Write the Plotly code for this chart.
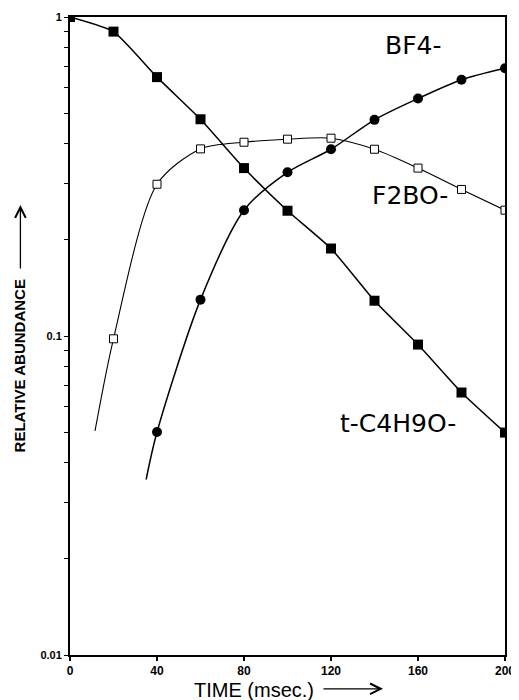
import math
import plotly.graph_objects as go

# ---- data ----
time = [0, 20, 40, 60, 80, 100, 120, 140, 160, 180, 200]
tc4h9o = [1.0, 0.90, 0.648, 0.478, 0.336, 0.247, 0.188, 0.129, 0.094, 0.0665, 0.0498]

time_bf4 = [40, 60, 80, 100, 120, 140, 160, 180, 200]
bf4 = [0.050, 0.130, 0.248, 0.326, 0.385, 0.476, 0.555, 0.636, 0.691]
bf4_fit_start = (35, 0.0355)

time_f2bo = [20, 40, 60, 80, 100, 120, 140, 160, 180, 200]
f2bo = [0.098, 0.299, 0.386, 0.405, 0.414, 0.417, 0.385, 0.336, 0.288, 0.248]
f2bo_fit_start = (11.5, 0.0504)

x_ticks = [0, 40, 80, 120, 160, 200]
y_major = [0.01, 0.1, 1]
y_major_labels = ["0.01", "0.1", "1"]

series_labels = {"bf4": "BF4-", "f2bo": "F2BO-", "tc4h9o": "t-C4H9O-"}
# label anchor positions in data units
label_pos = {"bf4": (157.7, 0.813), "f2bo": (156.3, 0.275), "tc4h9o": (150.6, 0.0532)}

fig = go.Figure()

# fitted curves
fig.add_trace(go.Scatter(
    x=[f2bo_fit_start[0]] + time_f2bo, y=[f2bo_fit_start[1]] + f2bo,
    mode="lines", line=dict(color="black", width=1.1, shape="spline", smoothing=0.8),
    hoverinfo="skip", showlegend=False))
fig.add_trace(go.Scatter(
    x=[bf4_fit_start[0]] + time_bf4, y=[bf4_fit_start[1]] + bf4,
    mode="lines", line=dict(color="black", width=1.5, shape="spline", smoothing=0.8),
    hoverinfo="skip", showlegend=False))
fig.add_trace(go.Scatter(
    x=time, y=tc4h9o,
    mode="lines", line=dict(color="black", width=1.5, shape="spline", smoothing=0.5),
    hoverinfo="skip", showlegend=False))

# markers
fig.add_trace(go.Scatter(
    x=time_f2bo, y=f2bo, mode="markers", name=series_labels["f2bo"],
    marker=dict(symbol="square", size=8, color="white", line=dict(color="black", width=1)),
    showlegend=False))
fig.add_trace(go.Scatter(
    x=time_bf4, y=bf4, mode="markers", name=series_labels["bf4"],
    marker=dict(symbol="circle", size=10, color="black", line=dict(width=0)),
    showlegend=False))
fig.add_trace(go.Scatter(
    x=time, y=tc4h9o, mode="markers", name=series_labels["tc4h9o"],
    marker=dict(symbol="square", size=10, color="black", line=dict(width=0)),
    showlegend=False))

# y ticks: decades labelled, minor 2..9 unlabelled
y_tickvals, y_ticktext = [], []
for dec, lab in zip(y_major, y_major_labels):
    y_tickvals.append(dec)
    y_ticktext.append(lab)
    if dec < 1:
        for m in range(2, 10):
            y_tickvals.append(dec * m)
            y_ticktext.append("")

label_font = dict(family="DejaVu Sans", size=25, color="black")

# annotations on a log axis take log10 of the value
annotations = [
    dict(x=label_pos[k][0], y=math.log10(label_pos[k][1]), xref="x", yref="y",
         text=series_labels[k], showarrow=False, font=label_font)
    for k in ("bf4", "f2bo", "tc4h9o")
]
annotations += [
    # x axis title and its arrow
    dict(x=0.424, y=-0.055, xref="paper", yref="paper", xanchor="center", yanchor="middle",
         text="TIME (msec.)", showarrow=False,
         font=dict(family="Liberation Sans", size=20, color="black")),
    dict(x=0.7195, y=-0.053, xref="paper", yref="paper", text="",
         showarrow=True, ax=-61, ay=0, arrowhead=5, arrowsize=1.6, arrowwidth=1.3,
         arrowcolor="black"),
    # y axis title and its arrow
    dict(x=-0.115, y=0.4538, xref="paper", yref="paper", xanchor="center", yanchor="middle",
         text="<b>RELATIVE ABUNDANCE</b>", textangle=-90, showarrow=False,
         font=dict(family="Liberation Sans", size=15, color="black")),
    dict(x=-0.114, y=0.7053, xref="paper", yref="paper", text="",
         showarrow=True, ax=0, ay=65, arrowhead=5, arrowsize=1.6, arrowwidth=1.3,
         arrowcolor="black"),
]

# page has an 8px body margin, so the figure is 8px smaller than the window
fig.update_layout(
    width=511, height=692,
    margin=dict(l=62, r=14, t=9, b=45),
    paper_bgcolor="white", plot_bgcolor="white",
    showlegend=False,
    xaxis=dict(
        range=[0, 200], tickvals=x_ticks, ticktext=[str(v) for v in x_ticks],
        ticks="outside", ticklen=4, tickwidth=1.5, tickcolor="black",
        showline=True, linecolor="black", linewidth=2, mirror=True,
        showgrid=False, zeroline=False, automargin=False,
        tickfont=dict(family="Liberation Sans", size=12, color="black", weight="bold"),
    ),
    yaxis=dict(
        type="log", range=[-2, 0], tickvals=y_tickvals, ticktext=y_ticktext,
        ticks="outside", ticklen=4, tickwidth=1.2, tickcolor="black",
        showline=True, linecolor="black", linewidth=2, mirror=True,
        showgrid=False, zeroline=False, automargin=False,
        tickfont=dict(family="Liberation Sans", size=11, color="black", weight="bold"),
    ),
    annotations=annotations,
)

fig.write_html("out.html")
